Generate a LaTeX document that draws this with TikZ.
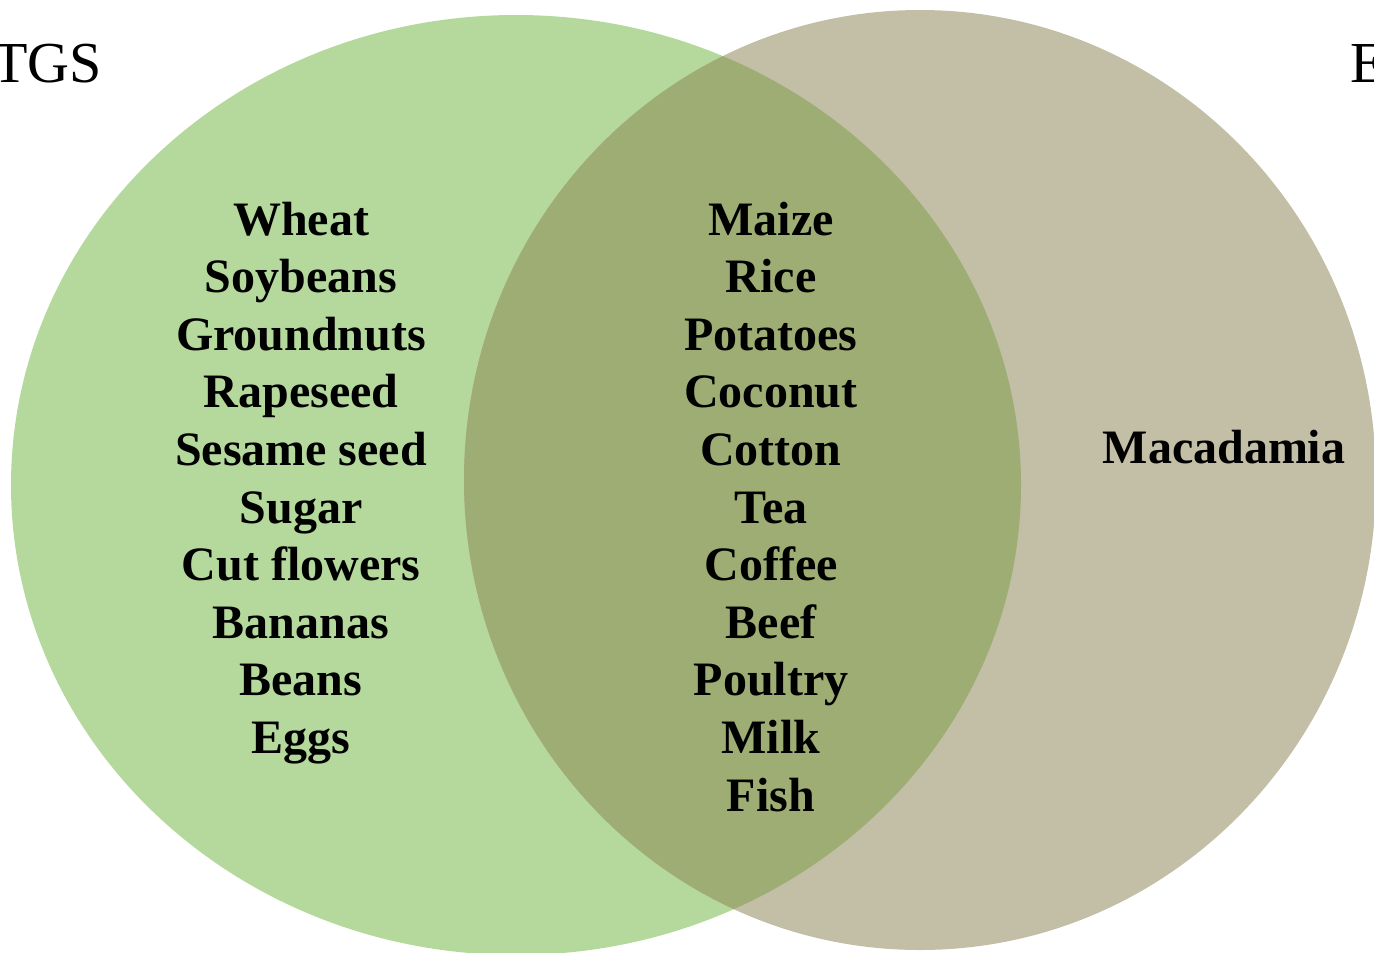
\documentclass[tikz,border=0pt]{standalone}
\usepackage{fontspec}
\setmainfont{Liberation Serif}
\usepackage{tikz}
\definecolor{TgsGreen}{RGB}{181,217,156}
\definecolor{OtherTan}{RGB}{195,190,166}
\definecolor{SharedOlive}{RGB}{158,173,115}
\tikzset{
    crop/.style={font=\bfseries\fontsize{48}{57}\selectfont, inner sep=0pt, anchor=base},
    setname/.style={font=\fontsize{58}{60}\selectfont, inner sep=0pt}
}

\begin{document}
\begin{tikzpicture}[x=1pt, y=-1pt]
    \useasboundingbox (0,0) rectangle (1374,953);
    % the two sets
    \fill[TgsGreen] (516,485) ellipse [x radius=505, y radius=470];
    \fill[OtherTan] (920,480) ellipse [x radius=456, y radius=470];
    \begin{scope}
      \clip (516,485) ellipse [x radius=505, y radius=470];
      \fill[SharedOlive] (920,480) ellipse [x radius=456, y radius=470];
    \end{scope}
    % set names
    \node[setname, anchor=base east] (tgs) at (102,82) {TGS};
    \node[setname, anchor=base west] (other) at (1350,82) {E};
    % crops
    \foreach \crop [count=\i] in {Wheat, Soybeans, Groundnuts, Rapeseed, Sesame seed, Sugar, Cut flowers, Bananas, Beans, Eggs}
      \node[crop] (left\i) at (301,{235+57.6*(\i-1)}) {\crop};
    \foreach \crop [count=\i] in {Maize, Rice, Potatoes, Coconut, Cotton, Tea, Coffee, Beef, Poultry, Milk, Fish}
      \node[crop] (mid\i) at (771,{235+57.6*(\i-1)}) {\crop};
    \node[crop] (right1) at (1224,463) {Macadamia};
\end{tikzpicture}
\end{document}
